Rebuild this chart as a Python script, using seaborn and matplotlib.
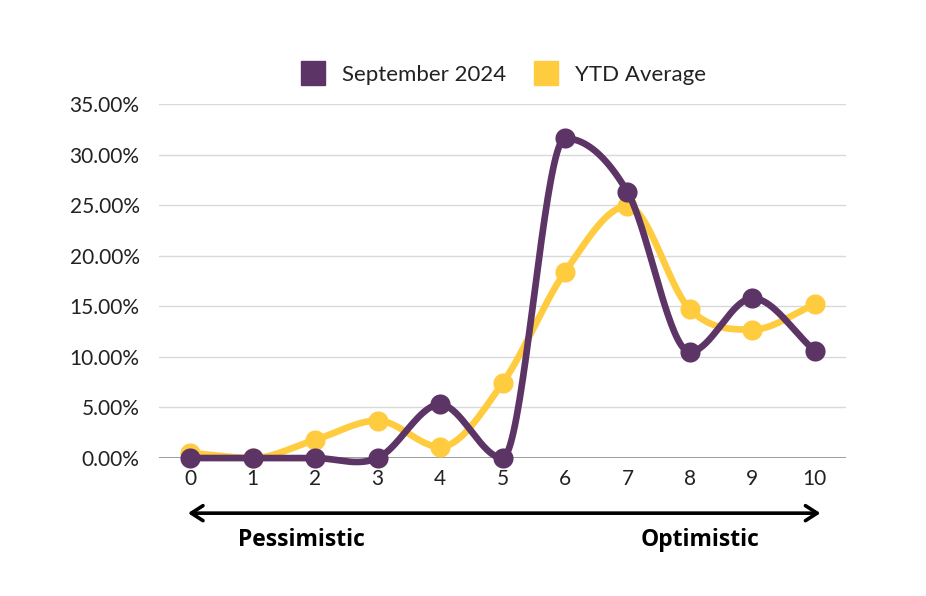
import numpy as np
import pandas as pd
import matplotlib.pyplot as plt
import seaborn as sns
from matplotlib.lines import Line2D

# Dados (percentual por nota 0-10)
scores = [0, 1, 2, 3, 4, 5, 6, 7, 8, 9, 10]
september_2024 = [0.0, 0.0, 0.0, 0.0, 5.3, 0.0, 31.6, 26.3, 10.5, 15.8, 10.6]
ytd_average = [0.5, 0.0, 1.8, 3.7, 1.1, 7.4, 18.4, 24.9, 14.7, 12.7, 15.2]
y_ticks = [0, 5, 10, 15, 20, 25, 30, 35]

purple = '#5D3466'
yellow = '#FFCB3F'


def smooth(xs, ys, n=40):
    # curva suave (hermite), tangente zero nos extremos locais
    xs = np.asarray(xs, float)
    ys = np.asarray(ys, float)
    m = np.zeros_like(ys)
    for i in range(len(ys)):
        if i == 0:
            m[i] = ys[1] - ys[0]
        elif i == len(ys) - 1:
            m[i] = ys[-1] - ys[-2]
        else:
            d0 = ys[i] - ys[i - 1]
            d1 = ys[i + 1] - ys[i]
            m[i] = 0 if d0 * d1 < 0 else (ys[i + 1] - ys[i - 1]) / 2
    px, py = [], []
    for i in range(len(xs) - 1):
        t = np.linspace(0, 1, n, endpoint=False)
        h00 = 2 * t**3 - 3 * t**2 + 1
        h10 = t**3 - 2 * t**2 + t
        h01 = -2 * t**3 + 3 * t**2
        h11 = t**3 - t**2
        px.extend(xs[i] + t)
        py.extend(h00 * ys[i] + h10 * m[i] + h01 * ys[i + 1] + h11 * m[i + 1])
    px.append(xs[-1])
    py.append(ys[-1])
    return pd.DataFrame({'x': px, 'y': py})


sns.set_theme(style='white')
plt.rcParams['font.family'] = ['Lato', 'DejaVu Sans']

fig = plt.figure(figsize=(9.26, 5.96), dpi=100)
ax = fig.add_axes([0.1717, 0.2315, 0.742, 0.594])

for v in y_ticks[1:]:
    ax.axhline(v, color='#d9d9d9', lw=1, zorder=0)
ax.axhline(0, color='#8c8c8c', lw=1.2, zorder=0)

sns.lineplot(data=smooth(scores, ytd_average), x='x', y='y', color=yellow, lw=4.8,
             ax=ax, zorder=2, clip_on=False)
sns.scatterplot(x=scores, y=ytd_average, color=yellow, s=210, linewidth=0, ax=ax,
                zorder=3, clip_on=False)
sns.lineplot(data=smooth(scores, september_2024), x='x', y='y', color=purple, lw=4.8,
             ax=ax, zorder=4, clip_on=False)
sns.scatterplot(x=scores, y=september_2024, color=purple, s=210, linewidth=0, ax=ax,
                zorder=5, clip_on=False)

ax.set_xlim(-0.5, 10.5)
ax.set_ylim(0, 35)
ax.set_xticks(scores)
ax.set_yticks(y_ticks)
ax.set_yticklabels([f'{v:.2f}%' for v in y_ticks])
ax.tick_params(axis='both', labelsize=15, colors='#222222', length=0)
ax.tick_params(axis='y', pad=14)
ax.tick_params(axis='x', pad=8)
ax.set_xlabel('')
ax.set_ylabel('')
for s in ax.spines.values():
    s.set_visible(False)

handles = [
    Line2D([], [], marker='s', ls='', color=purple, markersize=17),
    Line2D([], [], marker='s', ls='', color=yellow, markersize=17),
]
fig.legend(handles, ['September 2024', 'YTD Average'], loc='center',
           bbox_to_anchor=(0.538, 0.874), ncol=2, frameon=False,
           fontsize=16, handletextpad=0.3, columnspacing=0.8,
           labelcolor='#222222')

# seta pessimista / otimista
ax.annotate('', xy=(0.889, 0.139), xytext=(0.2, 0.139), xycoords='figure fraction',
            arrowprops=dict(arrowstyle='<->,head_length=0.7,head_width=0.45',
                            color='black', lw=2.6))
fig.text(0.326, 0.094, 'Pessimistic', ha='center', va='center', fontsize=16.5,
         fontweight='bold', family=['Open Sans', 'DejaVu Sans'], color='black')
fig.text(0.756, 0.094, 'Optimistic', ha='center', va='center', fontsize=16.5,
         fontweight='bold', family=['Open Sans', 'DejaVu Sans'], color='black')

fig.savefig('out.png', dpi=100, facecolor='white')
